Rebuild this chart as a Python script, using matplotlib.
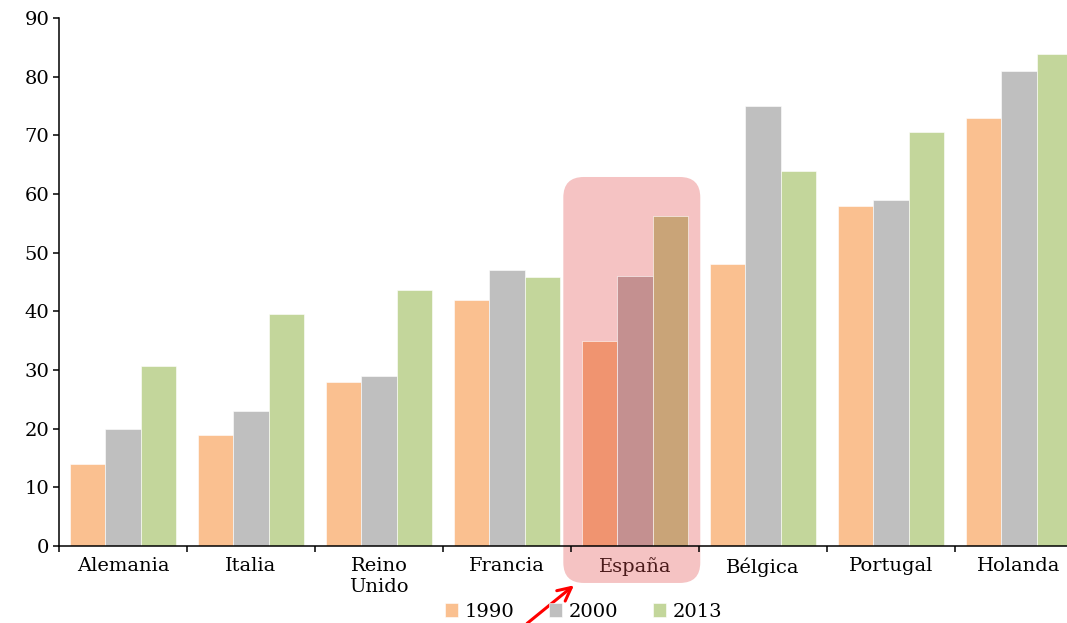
import numpy as np
import matplotlib.pyplot as plt
from matplotlib.patches import FancyBboxPatch

plt.rcParams["font.family"] = ["DejaVu Serif"]

paises = ["Alemania", "Italia", "Reino\nUnido", "Francia", "España",
          "Bélgica", "Portugal", "Holanda"]
anios = ["1990", "2000", "2013"]
v1990 = [14, 19, 28, 42, 35, 48, 58, 73]
v2000 = [20, 23, 29, 47, 46, 75, 59, 81]
v2013 = [30.6, 39.6, 43.7, 45.9, 56.2, 63.9, 70.6, 83.9]
colores = ["#FAC090", "#BFBFBF", "#C3D69B"]
colores_resalte = ["#F09470", "#C49090", "#C9A478"]
resaltado = "España"
rosa = "#F5C3C3"

fig = plt.figure(figsize=(10.67, 6.23), dpi=100)
ax = fig.add_axes([59 / 1067, 1 - 546 / 623, 1024 / 1067, 528 / 623])

x = np.arange(len(paises))
w = 0.278
idx = paises.index(resaltado)
for k, (vals, col) in enumerate(zip([v1990, v2000, v2013], colores)):
    cols = [col] * len(paises)
    cols[idx] = colores_resalte[k]
    ax.bar(x + (k - 1) * w, vals, width=w, color=cols, edgecolor="white",
           linewidth=0.4, label=anios[k], zorder=2)

ax.set_xlim(-0.5, len(paises) - 0.5)
ax.set_ylim(0, 90)
ax.set_yticks(np.arange(0, 91, 10))
ax.set_xticks(x)
ax.set_xticklabels(paises)
ax.set_xticks(np.arange(-0.5, len(paises), 1), minor=True)
ax.tick_params(axis="x", which="major", length=0, pad=8, labelsize=14)
ax.tick_params(axis="x", which="minor", length=4, direction="out", width=1.1)
ax.tick_params(axis="y", length=4, width=1.1, labelsize=14, pad=3)
for s in ["top", "right"]:
    ax.spines[s].set_visible(False)
for s in ["left", "bottom"]:
    ax.spines[s].set_linewidth(1.1)
    ax.spines[s].set_zorder(3)

for lab in ax.get_xticklabels():
    if lab.get_text() == resaltado:
        lab.set_color("#4A1A1A")

# recuadro redondeado de resalte
px_x = 1 / 128.0
px_y = 90 / 528.0
caja = FancyBboxPatch((idx - 0.56, -6.3), 1.07, 69.2,
                      boxstyle="round,pad=0,rounding_size=0.16",
                      mutation_aspect=px_y / px_x, facecolor=rosa,
                      edgecolor="none", clip_on=False, zorder=1)
ax.add_patch(caja)

ax.annotate("", xy=(idx - 0.46, -6.4), xytext=(idx - 0.86, -13.5),
            xycoords="data", textcoords="data",
            arrowprops=dict(arrowstyle="->", color="red", lw=2.2,
                            mutation_scale=24),
            annotation_clip=False)

ax.legend(loc="lower center", bbox_to_anchor=(0.512, -0.175),
          ncol=3, frameon=False, fontsize=14, handlelength=0.7,
          handleheight=0.7, handletextpad=0.3, columnspacing=1.8)

fig.savefig("out.png", dpi=100)
